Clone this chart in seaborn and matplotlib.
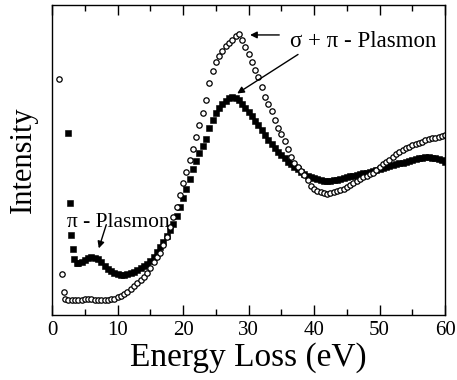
import numpy as np
import pandas as pd
import seaborn as sns
import matplotlib.pyplot as plt

# open circles - energy loss (eV) and intensity (arb. units)
energy_open = [1.0, 1.5, 1.75] + list(np.arange(2.0, 60.5, 0.5))
intensity_open = [236, 41, 23,
                  16, 15, 15, 15, 15, 15, 16, 16, 16, 15, 15, 15, 15, 15, 16, 16,   # 2.0 - 9.5
                  18, 19, 21, 23, 26, 29, 32, 35, 38, 42,                           # 10 - 14.5
                  47, 53, 58, 62, 70, 78, 88, 98, 108, 120,                         # 15 - 19.5
                  132, 143, 155, 166, 178, 190, 202, 215, 232, 244,                 # 20 - 24.5
                  253, 259, 264, 269, 272, 275, 279, 281, 275, 268,                 # 25 - 29.5
                  261, 253, 245, 238, 228, 218, 211, 204, 195, 187,                 # 30 - 34.5
                  181, 174, 166, 158, 152, 148, 144, 140, 135, 129,                 # 35 - 39.5
                  126, 124, 123, 122, 121, 122, 123, 124, 125, 126,                 # 40 - 44.5
                  128, 130, 132, 134, 136, 138, 139, 141, 142, 145,                 # 45 - 49.5
                  148, 151, 153, 155, 158, 161, 163, 165, 167, 168,                 # 50 - 54.5
                  170, 171, 172, 173, 175, 176, 177, 177, 178, 179, 180]            # 55 - 60

# filled squares
energy_filled = [2.4, 2.7, 2.9, 3.2, 3.4, 3.8] + list(np.arange(4.0, 60.5, 0.5))
intensity_filled = [182, 112, 80, 66, 56, 52,
                    52, 53, 55, 57, 58, 57, 56, 53, 49, 46, 44, 42,                 # 4 - 9.5
                    41, 40, 40, 41, 42, 43, 45, 47, 49, 51,                         # 10 - 14.5
                    54, 58, 63, 68, 73, 79, 85, 91, 99, 108,                        # 15 - 19.5
                    117, 126, 136, 146, 154, 162, 169, 176, 187, 195,               # 20 - 24.5
                    202, 207, 211, 214, 217, 218, 217, 215, 211, 207,               # 25 - 29.5
                    203, 199, 194, 190, 185, 180, 175, 171, 167, 163,               # 30 - 34.5
                    160, 157, 153, 151, 148, 146, 143, 141, 139, 138,               # 35 - 39.5
                    137, 136, 135, 134, 134, 134, 135, 135, 136, 137,               # 40 - 44.5
                    138, 139, 139, 140, 141, 142, 142, 143, 144, 145,               # 45 - 49.5
                    146, 147, 148, 149, 150, 151, 152, 152, 153, 154,               # 50 - 54.5
                    155, 156, 157, 157, 158, 158, 157, 157, 156, 155, 153]          # 55 - 60

x_ticks = [0, 10, 20, 30, 40, 50, 60]

sns.set_style("ticks")
plt.rcParams['font.family'] = ['Liberation Serif', 'DejaVu Serif']
plt.rcParams['text.color'] = 'black'
plt.rcParams['axes.labelcolor'] = 'black'

fig = plt.figure(figsize=(4.57, 3.8), dpi=100)
ax = fig.add_axes([0.114, 0.171, 0.86, 0.816])

df_open = pd.DataFrame({"energy": energy_open, "intensity": intensity_open})
df_filled = pd.DataFrame({"energy": energy_filled, "intensity": intensity_filled})

sns.scatterplot(data=df_filled, x="energy", y="intensity", marker="s", s=17,
                color="black", edgecolor="black", linewidth=0.4, ax=ax)
sns.scatterplot(data=df_open, x="energy", y="intensity", marker="o", s=15,
                facecolor="white", edgecolor="black", linewidth=0.9, ax=ax)

ax.set_xlim(0, 60)
ax.set_ylim(0, 310)
ax.set_xticks(x_ticks)
ax.set_xticks(np.arange(5, 60, 10), minor=True)
ax.set_yticks([])
ax.tick_params(axis="x", which="both", direction="in", top=True, labelsize=15,
               width=1, pad=4, colors="black")
ax.tick_params(axis="x", which="major", length=7)
ax.tick_params(axis="x", which="minor", length=4)
for sp in ax.spines.values():
    sp.set_visible(True)
    sp.set_linewidth(1)
    sp.set_color("black")

ax.set_xlabel("Energy Loss (eV)", fontsize=24, labelpad=2)
ax.set_ylabel("Intensity", fontsize=22, labelpad=10)

arrow = dict(arrowstyle="-|>", color="black", lw=1, mutation_scale=10)
ax.text(36.3, 268, "σ + π - Plasmon", fontsize=16.5, ha="left", va="baseline")
ax.annotate("", xy=(29.8, 280), xytext=(35.1, 280), arrowprops=arrow)
ax.annotate("", xy=(27.9, 220), xytext=(37.9, 262), arrowprops=arrow)
ax.text(2.3, 88, "π - Plasmon", fontsize=15.5, ha="left", va="baseline")
ax.annotate("", xy=(7.0, 64), xytext=(8.4, 93), arrowprops=arrow)

fig.savefig("out.png", dpi=100)
